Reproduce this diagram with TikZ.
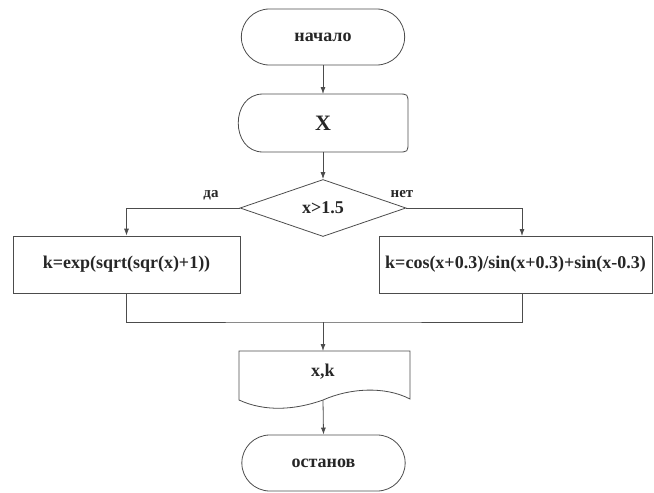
\documentclass[tikz,border=0pt]{standalone}
\usepackage{fontspec}
\setmainfont{Liberation Serif}
\usetikzlibrary{shapes.misc,shapes.geometric,arrows.meta}

\tikzset{
  line/.style={draw=black!70,line width=0.8pt},
  flow/.style={line,-{Latex[length=7pt,width=5pt]}},
  txt/.style={font=\fontsize{18}{20}\selectfont\bfseries,text=black!85},
  term/.style={rounded rectangle,line,txt,minimum width=170pt,minimum height=56pt},
  cond/.style={diamond,line,txt,aspect=2.9,minimum width=166pt,minimum height=57pt,inner sep=1pt},
  proc/.style={rectangle,line,txt,minimum height=57pt,inner xsep=0pt},
  lbl/.style={font=\fontsize{15}{17}\selectfont\bfseries,text=black!85}
}

\begin{document}
\begin{tikzpicture}[x=1pt,y=-1pt]
\useasboundingbox (0,0) rectangle (654,493);

% start
\node[term] (start) at (323,37) {начало};

% input
\draw[line] (263,94) -- (398,94) .. controls (408,94) .. (408,104) -- (408,142)
  .. controls (408,152) .. (398,152) -- (263,152) .. controls (230,152) and (230,94) .. (263,94) -- cycle;
\node[txt,font=\fontsize{22}{24}\selectfont\bfseries] (inp) at (323,123) {X};
\coordinate (intop) at (323,94);
\coordinate (inbot) at (323,152);

% decision
\node[cond] (test) at (323,208) {x>1.5};
\node[lbl] (yes) at (211,195) {да};
\node[lbl] (no) at (402,194) {нет};

% branches
\node[proc,minimum width=227pt] (lbox) at (126.5,264.5) {k=exp(sqrt(sqr(x)+1))};
\node[proc,minimum width=273pt] (rbox) at (515.5,264.5) {k=cos(x+0.3)/sin(x+0.3)+sin(x-0.3)};
\coordinate (rin) at (522,236);
\coordinate (rout) at (522,293);
\coordinate (join) at (323,322);

% output
\draw[line] (239,351) -- (410,351) -- (410,399)
  .. controls (385,386) and (350,388) .. (323,400)
  .. controls (295,410) and (265,412) .. (239,400) -- cycle;
\node[txt] (res) at (323,372) {x,k};
\coordinate (doctop) at (323,351);
\coordinate (docbot) at (323,400);

% stop
\node[term] (stop) at (323.5,463) {останов};

% connectors
\draw[flow] (start.south) -- (intop);
\draw[flow] (inbot) -- (test.north);
\draw[flow] (test.west) -| (lbox.north);
\draw[flow] (test.east) -| (rin);
\draw[line] (lbox.south) |- (join) -| (rout);
\draw[flow] (join) -- (doctop);
\draw[flow] (docbot) -- (stop.north);
\end{tikzpicture}
\end{document}
